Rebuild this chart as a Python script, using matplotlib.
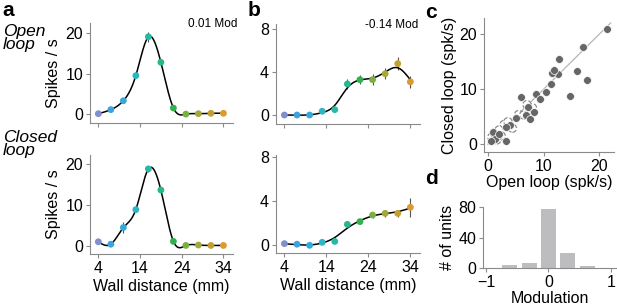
import matplotlib
matplotlib.use("Agg")
import matplotlib.pyplot as plt
import numpy as np

plt.rcParams['font.family'] = ['Liberation Sans', 'DejaVu Sans']
plt.rcParams['font.size'] = 11.5

# wall distances (mm) shared by panels a and b
dist = np.array([4, 7, 10, 13, 16, 19, 22, 25, 28, 31, 34])
dot_colors = ['#7f8fcf', '#3ca2e0', '#36a9d8', '#2eb4c2', '#27b8a6', '#25b88e',
              '#32b050', '#7ab040', '#a3a838', '#c2a030', '#db9a30']

# panel a: open / closed loop rates
a_open = np.array([0.1, 1.1, 3.3, 9.5, 19.1, 12.8, 1.5, 0.0, 0.1, 0.2, 0.2])
a_open_err = np.array([0.1, 0.2, 0.4, 0.6, 1.2, 0.8, 0.3, 0.1, 0.1, 0.1, 0.1])
a_closed = np.array([1.0, 0.4, 4.5, 8.9, 18.9, 13.7, 1.1, 0.1, 0.2, 0.1, 0.1])
a_closed_err = np.array([0.2, 0.2, 1.3, 0.6, 0.8, 0.8, 0.3, 0.1, 0.1, 0.1, 0.1])

# panel b
b_open = np.array([0.0, 0.0, 0.0, 0.35, 0.5, 2.9, 3.3, 3.3, 3.85, 4.8, 3.1])
b_open_err = np.array([0.05, 0.05, 0.05, 0.15, 0.15, 0.45, 0.45, 0.5, 0.5, 0.6, 0.55])
b_closed = np.array([0.15, 0.1, 0.0, 0.27, 0.35, 1.9, 2.15, 2.75, 2.9, 2.9, 3.45])
b_closed_err = np.array([0.05, 0.05, 0.05, 0.1, 0.1, 0.25, 0.25, 0.3, 0.3, 0.35, 0.85])

# panel c: open vs closed loop mean rates per unit
c_open = [21.4, 17.1, 16.0, 17.7, 14.7, 12.8, 12.5, 11.4, 11.3, 11.8, 10.4, 8.6,
          9.3, 5.9, 7.1, 6.9, 7.6, 8.3, 5.0, 3.9, 3.2, 3.3, 1.8, 1.0, 1.3, 0.6, 2.0]
c_closed = [20.9, 17.6, 13.2, 11.7, 8.8, 15.4, 12.8, 12.9, 11.0, 13.4, 9.4, 9.1,
            8.3, 8.6, 6.8, 5.4, 4.5, 5.9, 4.8, 3.5, 3.1, 0.55, 1.5, 2.2, 0.9, 0.6, 1.8]
# units drawn as dashed rings (overlapping cluster)
c_open_ring = [0.7, 1.6, 2.4, 2.9, 3.6, 4.4, 5.5, 6.4, 7.4, 8.0, 1.2, 2.0, 7.0]
c_closed_ring = [1.3, 0.8, 1.5, 3.6, 4.1, 2.9, 5.4, 5.3, 6.2, 6.6, 2.0, 2.6, 7.2]

# panel d: modulation histogram
mod_bins = [-0.62, -0.31, 0.0, 0.31, 0.62]
mod_counts = [4, 7, 77, 20, 3]

SPINE = '#8a8a8a'


def smooth_fit(x, y, lam, step=0.1):
    # penalised (Whittaker) smoothing spline on a fine grid
    grid = np.arange(x.min(), x.max() + step / 2, step)
    n = len(grid)
    idx = np.round((x - grid[0]) / step).astype(int)
    w = np.zeros(n)
    w[idx] = 1.0
    b = np.zeros(n)
    b[idx] = y
    D = np.diff(np.eye(n), 2, axis=0)
    A = np.diag(w) + lam / step ** 3 * D.T @ D
    return grid, np.linalg.solve(A, b)


def style(ax):
    for s in ['top', 'right']:
        ax.spines[s].set_visible(False)
    for s in ['left', 'bottom']:
        ax.spines[s].set_color(SPINE)
        ax.spines[s].set_linewidth(0.8)
    ax.tick_params(direction='out', length=3, width=0.8, color=SPINE, pad=2,
                   labelsize=11.5)


def tuning(ax, y, err, lam, ylim, yticks, xlabels=True):
    gx, gy = smooth_fit(dist, y, lam)
    ax.plot(gx, gy, color='black', lw=1.1, zorder=2)
    ax.errorbar(dist, y, yerr=err, fmt='none', ecolor='#555555', elinewidth=0.8,
                zorder=1)
    ax.scatter(dist, y, c=dot_colors, s=24, zorder=3, linewidths=0)
    ax.set_xlim(2.0, 36.3)
    ax.set_ylim(*ylim)
    ax.set_yticks(yticks)
    ax.set_xticks([4, 14, 24, 34])
    if not xlabels:
        ax.set_xticklabels([])
    style(ax)


W, H = 617, 305
fig = plt.figure(figsize=(W / 100, H / 100), dpi=100)


def axes_px(x0, y0, x1, y1):
    return fig.add_axes([x0 / W, 1 - y1 / H, (x1 - x0) / W, (y1 - y0) / H])


ax_a1 = axes_px(90, 23, 233, 123)
ax_a2 = axes_px(90, 155, 233, 254)
ax_b1 = axes_px(276, 24, 420, 124)
ax_b2 = axes_px(276, 155, 420, 253)
ax_c = axes_px(484, 18, 614, 152)
ax_d = axes_px(483, 207, 617, 268)

tuning(ax_a1, a_open, a_open_err, 0.02, (-2.2, 22.5), [0, 10, 20], xlabels=False)
tuning(ax_a2, a_closed, a_closed_err, 0.02, (-2.0, 22.3), [0, 10, 20])
tuning(ax_b1, b_open, b_open_err, 2.2, (-0.84, 8.5), [0, 4, 8], xlabels=False)
tuning(ax_b2, b_closed, b_closed_err, 8.0, (-0.7, 8.2), [0, 4, 8])

ax_a1.set_ylabel('Spikes / s', labelpad=3)
ax_a2.set_ylabel('Spikes / s', labelpad=3)
ax_a2.set_xlabel('Wall distance (mm)', labelpad=2)
ax_b2.set_xlabel('Wall distance (mm)', labelpad=2)

ax_a1.text(1.03, 0.99, '0.01 Mod', transform=ax_a1.transAxes, ha='right',
           va='center', fontsize=8.5)
ax_b1.text(0.99, 0.99, '-0.14 Mod', transform=ax_b1.transAxes, ha='right',
           va='center', fontsize=8.5)

# panel c
ax_c.plot([0, 22], [0, 22], color='#b5b5b5', lw=0.9, zorder=1)
ax_c.scatter(c_open_ring, c_closed_ring, s=34, facecolors='white',
             edgecolors='#8a8a8a', linestyles='--', linewidths=0.9, zorder=2)
ax_c.scatter(c_open, c_closed, s=32, color='#666666', edgecolors='white',
             linewidths=0.5, zorder=3)
ax_c.set_xlim(-0.7, 22.6)
ax_c.set_ylim(-1.4, 22.9)
ax_c.set_xticks([0, 10, 20])
ax_c.set_yticks([0, 10, 20])
ax_c.set_xlabel('Open loop (spk/s)', labelpad=1)
ax_c.set_ylabel('Closed loop (spk/s)', labelpad=2)
style(ax_c)

# panel d
ax_d.bar(mod_bins, mod_counts, width=0.24, color='#bdbdc0', zorder=2)
ax_d.set_xlim(-1.05, 1.1)
ax_d.set_ylim(0, 80)
ax_d.set_xticks([-1, 0, 1])
ax_d.set_yticks([0, 40, 80])
ax_d.set_xlabel('Modulation', labelpad=1)
ax_d.set_ylabel('# of units', labelpad=2)
style(ax_d)

# panel letters and row labels
for lx, ly, s in [(2, 11, 'a'), (248, 11, 'b'), (425, 12, 'c'), (425, 178, 'd')]:
    fig.text(lx / W, 1 - ly / H, s, fontsize=15, fontweight='bold', va='center')
fig.text(3 / W, 1 - 38 / H, 'Open\nloop', fontsize=12.5, style='italic',
         va='center', linespacing=0.9)
fig.text(3 / W, 1 - 144 / H, 'Closed\nloop', fontsize=12.5, style='italic',
         va='center', linespacing=0.9)

fig.savefig('out.png', dpi=100)
